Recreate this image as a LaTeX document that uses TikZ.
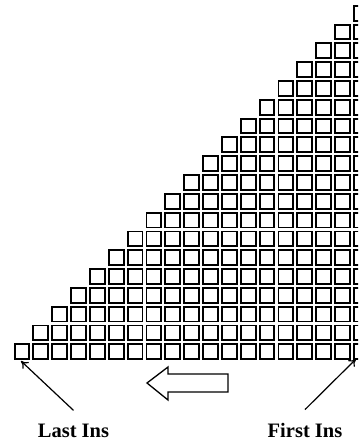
\documentclass[tikz,border=0pt]{standalone}
\usepackage{fontspec}
\setmainfont{Liberation Serif}
\usetikzlibrary{arrows.meta}
\tikzset{
  slot/.style   ={draw,line width=1.9pt,minimum size=14.8pt,inner sep=0pt,
                  anchor=north west},
  lbl/.style    ={font=\fontsize{20.5}{24}\selectfont\bfseries,inner sep=0pt,
                  anchor=base},
  ptr/.style    ={-{To[length=7pt,width=9pt]},line width=1.2pt},
  bigarr/.style ={draw,line width=1.3pt,line join=miter},
}
\begin{document}
\begin{tikzpicture}[x=1pt,y=-1pt]
\useasboundingbox (0,0) rectangle (358,443);
\clip (0,0) rectangle (358,443);

% --- staircase of slots ----------------------------------------------------
\foreach \i in {0,...,18}{
  \foreach \j in {0,...,\i}{
    \node[slot] (s-\i-\j) at ({352.9-\j*18.85},{4.9+\i*18.8}) {};
  }
}

% --- direction -------------------------------------------------------------
\draw[bigarr] (147,383) -- (168,367) -- (168,374) -- (228,374)
  -- (228,392) -- (168,392) -- (168,400) -- cycle;

% --- labels ----------------------------------------------------------------
\node[lbl] (last)  at (73.5,437) {Last Ins};
\node[lbl] (first) at (305,437)  {First Ins};
\coordinate (lasttip)  at (21,361);
\coordinate (firsttip) at (356,359);
\draw[ptr] ([yshift=13pt]last.north)  -- (lasttip);
\draw[ptr] ([yshift=13pt]first.north) -- (firsttip);

\end{tikzpicture}
\end{document}
